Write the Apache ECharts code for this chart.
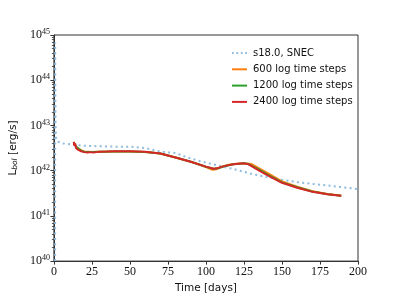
<!DOCTYPE html>
<html><head><meta charset="utf-8">
<script src="https://cdn.jsdelivr.net/npm/echarts@6/dist/echarts.min.js"></script>
<style>html,body{margin:0;padding:0;background:#fff}#c{width:399px;height:299px}</style>
</head><body><div id="c"></div>
<script>
// SNEC reference curve
const snecT = [0.8, 0.85, 0.9, 1.1, 1.5, 2.5, 6, 12, 20, 30, 40, 50, 60, 70, 80, 90, 100, 110, 120, 130, 140, 150, 160, 170, 180, 190, 200];
const snecL = [1e40, 6.8e44, 1e44, 1e43, 5e42, 4.4e42, 4.0e42, 3.8e42, 3.55e42, 3.47e42, 3.39e42, 3.39e42, 3.16e42, 2.63e42, 2.45e42, 1.85e42, 1.5e42, 1.25e42, 1.05e42, 8.5e41, 7.2e41, 6.3e41, 5.6e41, 5.1e41, 4.7e41, 4.3e41, 3.9e41];
// 600 log time steps
const t600 = [13, 15, 18, 20, 25, 30, 40, 50, 60, 70, 80, 90, 100, 104, 107, 110, 115, 120, 125, 130, 135, 140, 150, 160, 170, 180, 189];
const L600 = [4.0e42, 3.3e42, 2.8e42, 2.65e42, 2.6e42, 2.63e42, 2.65e42, 2.65e42, 2.6e42, 2.4e42, 1.95e42, 1.58e42, 1.2e42, 1.05e42, 1.08e42, 1.2e42, 1.35e42, 1.42e42, 1.45e42, 1.4e42, 1.12e42, 9.0e41, 5.8e41, 4.4e41, 3.5e41, 3.05e41, 2.8e41];
// 1200 log time steps
const t1200 = [13, 15, 18, 20, 25, 30, 40, 50, 60, 70, 80, 90, 100, 105, 108, 112, 118, 125, 128, 135, 140, 150, 160, 170, 180, 189];
const L1200 = [4.2e42, 3.3e42, 2.75e42, 2.6e42, 2.6e42, 2.63e42, 2.65e42, 2.65e42, 2.6e42, 2.4e42, 1.95e42, 1.58e42, 1.22e42, 1.1e42, 1.13e42, 1.25e42, 1.38e42, 1.45e42, 1.4e42, 1.05e42, 8.4e41, 5.5e41, 4.3e41, 3.45e41, 3.0e41, 2.8e41];
// 2400 log time steps
const t2400 = [13, 13.5, 14, 14.5, 15, 16, 17, 18, 19, 20, 21, 22, 23, 24, 25, 26, 27, 28, 30, 35, 40, 50, 60, 70, 80, 90, 100, 105, 108, 112, 118, 125, 128, 135, 140, 150, 160, 170, 180, 189];
const L2400 = [4.37e42, 3.55e42, 3.98e42, 3.16e42, 3.47e42, 2.88e42, 3.16e42, 2.69e42, 2.95e42, 2.57e42, 2.82e42, 2.51e42, 2.75e42, 2.57e42, 2.75e42, 2.51e42, 2.69e42, 2.57e42, 2.63e42, 2.65e42, 2.68e42, 2.7e42, 2.63e42, 2.4e42, 1.95e42, 1.58e42, 1.23e42, 1.1e42, 1.15e42, 1.26e42, 1.38e42, 1.45e42, 1.38e42, 1.0e42, 8.1e41, 5.4e41, 4.2e41, 3.4e41, 3.0e41, 2.8e41];

const seriesNames = ['s18.0, SNEC', '600 log time steps', '1200 log time steps', '2400 log time steps'];
const yExponents = [40, 41, 42, 43, 44, 45];

const zip = (a, b) => a.map((v, i) => [v, b[i]]);
// tiny inward nudge so the top decade stays inside the axis extent
const yMajor = yExponents.map(e => Math.pow(10, e) * (e === 45 ? 0.9999999 : 1));
const yMinor = [];
for (let e = 40; e < 45; e++) for (let m = 2; m <= 9; m++) yMinor.push(m * Math.pow(10, e));

const chart = echarts.init(document.getElementById('c'), null, {renderer: 'canvas'});
const serif = 'Liberation Serif';
const sans = 'DejaVu Sans';
const dotIcon = 'path://M0,0h2v2h-2z M5,0h2v2h-2z M10,0h2v2h-2z M15,0h2v2h-2z';
chart.setOption({
  animation: false,
  grid: {left: 51, right: 41, top: 35, bottom: 33, show: true, borderColor: '#333', borderWidth: 1, backgroundColor: 'transparent'},
  legend: {
    orient: 'vertical', left: 227, top: 43, itemWidth: 15, itemHeight: 2, itemGap: 6.3,
    textStyle: {fontFamily: sans, fontSize: 10, color: '#111', padding: [0, 0, 0, 1]},
    data: [
      {name: seriesNames[0], icon: dotIcon},
      {name: seriesNames[1], icon: 'rect'},
      {name: seriesNames[2], icon: 'rect'},
      {name: seriesNames[3], icon: 'rect'}
    ]
  },
  xAxis: {
    type: 'value', min: 0, max: 200, interval: 25,
    name: 'Time [days]', nameLocation: 'middle', nameGap: 19,
    nameTextStyle: {fontFamily: sans, fontSize: 10.5, color: '#111'},
    axisLine: {lineStyle: {color: '#333', width: 1}},
    axisTick: {show: true, length: 3.5, lineStyle: {color: '#333'}},
    axisLabel: {fontFamily: serif, fontSize: 12, color: '#111', margin: 5},
    splitLine: {show: false}
  },
  yAxis: [{
    type: 'log', logBase: 10, min: 1e40, max: 1e45,
    name: '{a|L}{s|bol}{a| [erg/s]}', nameLocation: 'middle', nameGap: 32,
    nameTextStyle: {rich: {a: {fontFamily: sans, fontSize: 10.5, color: '#111'}, s: {fontFamily: sans, fontSize: 7.5, fontStyle: 'italic', color: '#111', verticalAlign: 'bottom', lineHeight: 8}}},
    axisLine: {show: true, lineStyle: {color: '#333', width: 1}},
    axisTick: {show: true, length: 3.5, customValues: yMajor, lineStyle: {color: '#333'}},
    axisLabel: {
      margin: 4, showMinLabel: true, showMaxLabel: true, hideOverlap: false,
      customValues: yMajor,
      formatter: v => '{b|10}{e|' + Math.round(Math.log10(v)) + '}',
      rich: {
        b: {fontFamily: serif, fontSize: 12, lineHeight: 14, color: '#111'},
        e: {fontFamily: serif, fontSize: 8, lineHeight: 8, verticalAlign: 'top', color: '#111'}
      }
    },
    splitLine: {show: false}
  }, {
    type: 'log', logBase: 10, min: 1e40, max: 1e45, position: 'left',
    axisLine: {show: false},
    axisTick: {show: true, length: 2, customValues: yMinor, lineStyle: {color: '#333', width: 0.8}},
    axisLabel: {show: false},
    splitLine: {show: false}
  }],
  series: [
    {name: seriesNames[0], type: 'line', data: zip(snecT, snecL), showSymbol: false, symbol: 'none', z: 1,
     lineStyle: {color: '#8ebce0', width: 2, type: [2, 3.3], cap: 'butt'}, itemStyle: {color: '#8ebce0'}},
    {name: seriesNames[1], type: 'line', data: zip(t600, L600), showSymbol: false, symbol: 'none', z: 2,
     lineStyle: {color: '#ff7f0e', width: 2}, itemStyle: {color: '#ff7f0e'}},
    {name: seriesNames[2], type: 'line', data: zip(t1200, L1200), showSymbol: false, symbol: 'none', z: 3,
     lineStyle: {color: '#2ca02c', width: 2}, itemStyle: {color: '#2ca02c'}},
    {name: seriesNames[3], type: 'line', data: zip(t2400, L2400), showSymbol: false, symbol: 'none', z: 4,
     lineStyle: {color: '#d62728', width: 2}, itemStyle: {color: '#d62728'}}
  ]
});
</script></body></html>
